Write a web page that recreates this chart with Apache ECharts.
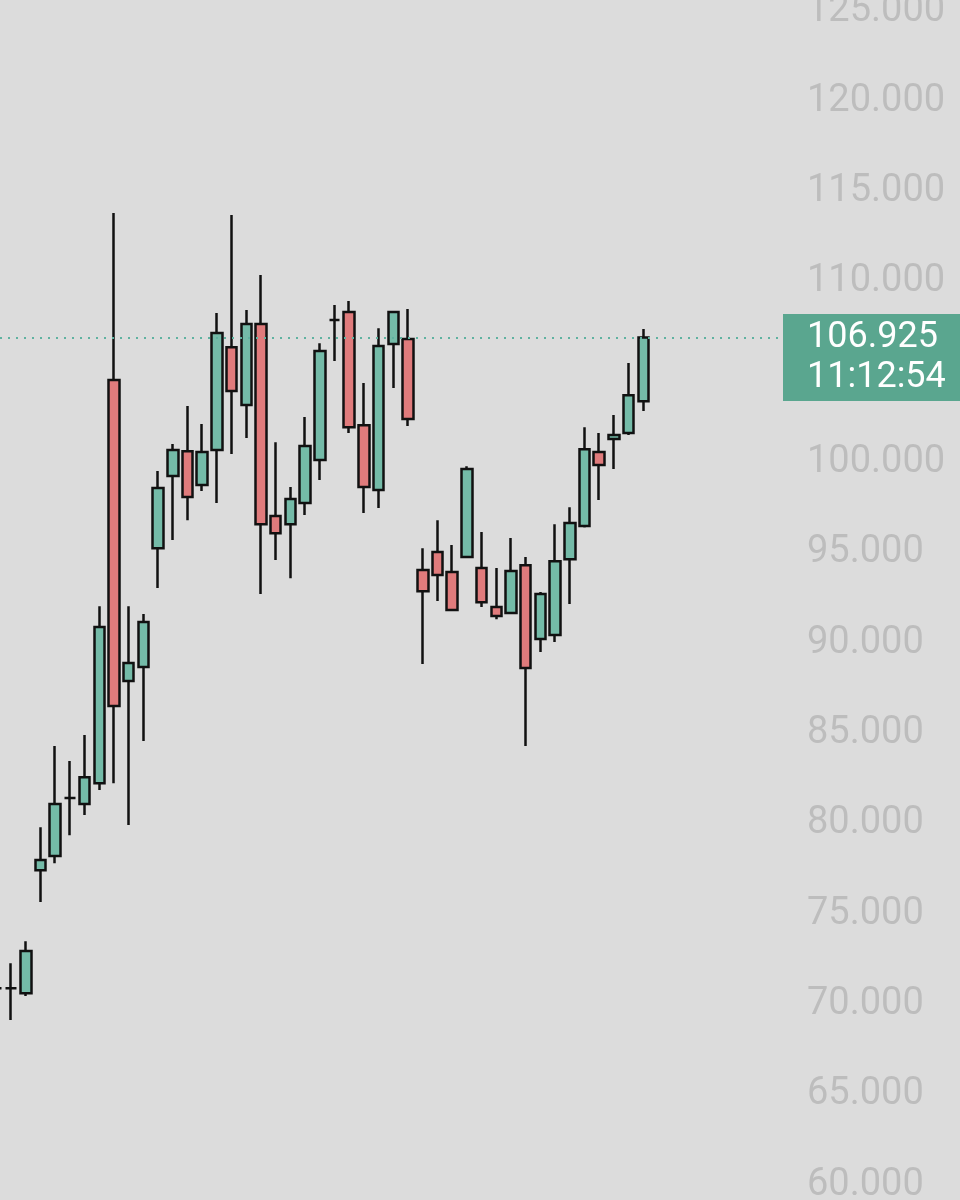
<!DOCTYPE html>
<html><head><meta charset="utf-8">
<script src="https://cdn.jsdelivr.net/npm/echarts@6/dist/echarts.min.js"></script>
<style>html,body{margin:0;padding:0;background:#dcdcdc;overflow:hidden;width:960px;height:1200px}#c{width:1000px;height:1240px;margin-left:-40px;margin-top:-20px}</style>
</head><body><div id="c"></div>
<script>
// [open, close, low, high]
const candles = [
[70.9,70.9,70.7,71.1],[70.9,70.9,69.13,72.28],[70.62,72.95,70.46,73.5],[77.43,77.99,75.67,79.81],
[78.21,81.09,77.82,84.3],[81.42,81.42,79.37,83.47],[81.09,82.58,80.48,84.91],[82.25,90.89,81.87,92.05],
[104.57,86.52,82.25,113.81],[87.9,88.9,79.93,92.05],[88.68,91.17,84.58,91.61],[95.26,98.59,93.05,99.53],
[99.25,100.69,95.71,101.02],[100.63,98.09,96.81,103.13],[98.75,100.58,98.42,102.13],[100.69,107.17,97.76,108.28],
[106.39,103.96,100.47,113.7],[103.18,107.67,101.36,108.44],[107.67,96.59,92.72,110.38],[97.04,96.09,94.6,101.13],
[96.59,97.98,93.6,98.64],[97.76,100.91,97.09,102.52],[100.14,106.17,99.03,106.61],[107.89,107.89,105.62,108.72],
[108.33,101.96,101.63,108.94],[102.07,98.64,97.2,104.4],[98.48,106.45,97.48,107.44],[106.56,108.33,104.12,108.4],
[106.84,102.41,102.02,108.5],[94.05,92.88,88.84,95.26],[95.04,93.77,92.33,96.81],[93.94,91.83,91.78,95.43],
[94.77,99.64,94.7,99.8],[94.16,92.27,92.0,96.15],[92.0,91.5,91.33,94.16],[91.67,94.0,91.61,95.82],
[94.32,88.62,84.3,94.77],[90.23,92.72,89.51,92.83],[90.45,94.54,90.06,96.59],[94.65,96.65,92.17,97.53],
[96.48,100.74,96.4,101.96],[100.58,99.86,97.92,101.63],[101.3,101.52,99.64,102.63],[101.63,103.73,101.52,105.51],
[103.4,106.925,102.85,107.39]
];
const lastPrice = 106.925;
const lastTime = '11:12:54';
const totalSlots = 54;
const categories = Array.from({length: totalSlots}, (_, i) => 'c' + i);
const seriesData = categories.map((_, i) => candles[i] || '-');
const chart = echarts.init(document.getElementById('c'));
chart.setOption({
  backgroundColor: '#dcdcdc',
  animation: false,
  grid: {left: 29, right: 177, top: 31, bottom: 35},
  xAxis: {type: 'category', data: categories, show: false},
  yAxis: {type: 'value', position: 'right', min: 60, max: 125, interval: 5,
    axisLine: {show: false}, axisTick: {show: false}, splitLine: {show: false},
    axisLabel: {margin: 24, color: '#bdbdbd', fontSize: 38, fontFamily: 'Roboto', formatter: v => v.toFixed(3)}},
  series: [{
    type: 'candlestick', data: seriesData, barWidth: 11,
    itemStyle: {color: '#74bba8', color0: '#e07b7c', borderColor: '#111', borderColor0: '#111', borderWidth: 2.5},
    markLine: {symbol: 'none', silent: true,
      lineStyle: {color: '#5fb2a0', type: [2, 6], width: 2},
      label: {position: 'end', distance: 0, offset: [0, 20], formatter: lastPrice.toFixed(3) + '\n' + lastTime,
        color: '#fff', fontSize: 36, fontFamily: 'Roboto', lineHeight: 40, backgroundColor: '#5aa68f',
        padding: [4, 4, 3, 24], width: 150, align: 'left'},
      data: [{yAxis: lastPrice, x: 0}]}
  }]
});
</script></body></html>
